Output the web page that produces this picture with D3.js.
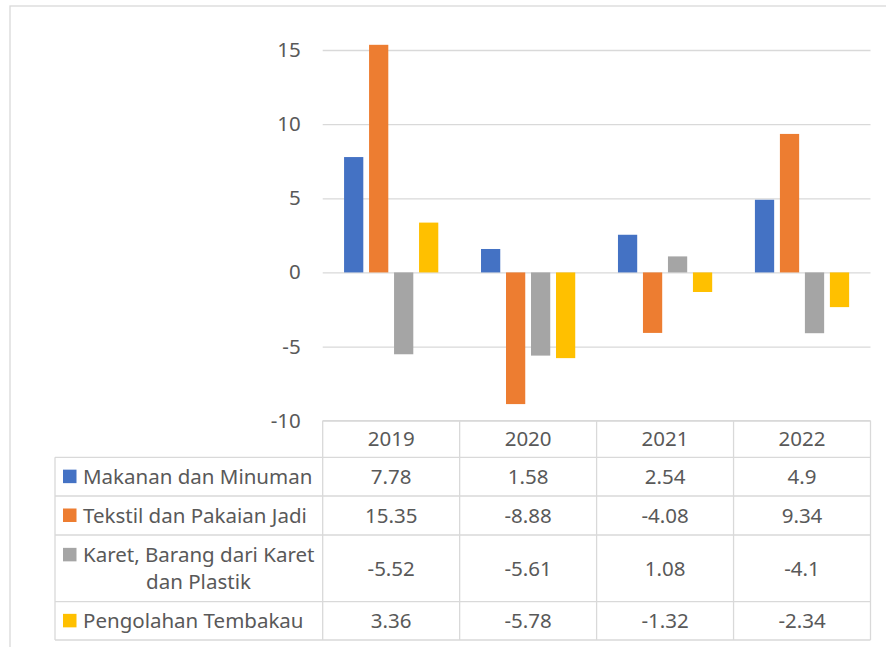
<!DOCTYPE html>
<html>
<head>
<meta charset="utf-8">
<script src="https://cdn.jsdelivr.net/npm/d3@7"></script>
<style>
  body { margin: 0; background: #fff; }
  text { font-family: "Noto Sans", "Open Sans", sans-serif; fill: #595959; }
</style>
</head>
<body>
<script>
var WIDTH = 886, HEIGHT = 647;

// data
var years = ["2019", "2020", "2021", "2022"];
var seriesNames = ["Makanan dan Minuman", "Tekstil dan Pakaian Jadi", "Karet, Barang dari Karet dan Plastik", "Pengolahan Tembakau"];
var makanan = [7.78, 1.58, 2.54, 4.9];
var tekstil = [15.35, -8.88, -4.08, 9.34];
var karet = [-5.52, -5.61, 1.08, -4.1];
var tembakau = [3.36, -5.78, -1.32, -2.34];
var yTicks = [-10, -5, 0, 5, 10, 15];
var colors = ["#4472C4", "#ED7D31", "#A5A5A5", "#FFC000"];

var seriesValues = [makanan, tekstil, karet, tembakau];

var FS = 20.5;
var PLOT = { left: 322.7, right: 870.5, top: 50, bottom: 420.7 };
var LEGEND_LEFT = 55;
var rowLines = [420.7, 457.3, 496, 535, 601.7, 640];
var GRID = "#d9d9d9";

var _svg = d3.select('body').append('svg')
    .attr('width', WIDTH)
    .attr('height', HEIGHT);

// outer chart border (runs off the right/bottom of the picture)
_svg.append('rect')
    .attr('x', 10).attr('y', 6)
    .attr('width', 900).attr('height', 700)
    .attr('fill', 'none')
    .attr('stroke', GRID)
    .attr('stroke-width', 1.3);

var _xScale = d3.scaleBand()
    .domain(years)
    .range([PLOT.left, PLOT.right]);

var _yScale = d3.scaleLinear()
    .domain([-10, 15])
    .range([PLOT.bottom, PLOT.top]);

var bw = _xScale.bandwidth();
var _x1 = d3.scaleBand()
    .domain(d3.range(seriesNames.length))
    .range([bw * 0.156, bw * 0.844])
    .paddingInner(0.23);

// gridlines + y labels
var yAxis = d3.axisLeft(_yScale)
    .tickValues(yTicks)
    .tickSize(-(PLOT.right - PLOT.left))
    .tickPadding(22)
    .tickFormat(function(d){ return String(d); });

var ag = _svg.append('g')
    .attr('transform', 'translate(' + PLOT.left + ',0)')
    .call(yAxis);
ag.select('.domain').remove();
ag.selectAll('.tick line').attr('stroke', GRID).attr('stroke-width', 1.3);
ag.selectAll('.tick text')
    .attr('font-size', FS)
    .attr('fill', '#595959')
    .style('font-family', '"Noto Sans", sans-serif');

// bars
seriesValues.forEach(function(vals, si){
    _svg.append('g').selectAll('rect').data(vals)
        .enter()
        .append('rect')
            .attr('x', function(d, i){ return _xScale(years[i]) + _x1(si); })
            .attr('width', _x1.bandwidth())
            .attr('y', function(d){ return _yScale(Math.max(0, d)); })
            .attr('height', function(d){ return Math.abs(_yScale(d) - _yScale(0)); })
            .attr('fill', colors[si]);
});

// data table lines
var tg = _svg.append('g').attr('stroke', GRID).attr('stroke-width', 1.3);
rowLines.forEach(function(y, i){
    tg.append('line')
        .attr('x1', i === 0 ? PLOT.left : LEGEND_LEFT).attr('x2', PLOT.right)
        .attr('y1', y).attr('y2', y);
});
tg.append('line')
    .attr('x1', LEGEND_LEFT).attr('x2', LEGEND_LEFT)
    .attr('y1', rowLines[1]).attr('y2', rowLines[5]);
years.forEach(function(yr){
    tg.append('line')
        .attr('x1', _xScale(yr)).attr('x2', _xScale(yr))
        .attr('y1', rowLines[0]).attr('y2', rowLines[5]);
});
tg.append('line')
    .attr('x1', PLOT.right).attr('x2', PLOT.right)
    .attr('y1', rowLines[0]).attr('y2', rowLines[5]);

// header years
_svg.append('g').selectAll('text').data(years)
    .enter()
    .append('text')
        .attr('x', function(d){ return _xScale(d) + bw / 2; })
        .attr('y', (rowLines[0] + rowLines[1]) / 2)
        .attr('dy', '0.35em')
        .attr('text-anchor', 'middle')
        .attr('font-size', FS)
        .text(function(d){ return d; });

// values + legend rows
seriesNames.forEach(function(name, si){
    var cy = (rowLines[si + 1] + rowLines[si + 2]) / 2;
    var g = _svg.append('g');
    g.selectAll('text').data(seriesValues[si])
        .enter()
        .append('text')
            .attr('x', function(d, i){ return _xScale(years[i]) + bw / 2; })
            .attr('y', cy)
            .attr('dy', '0.35em')
            .attr('text-anchor', 'middle')
            .attr('font-size', FS)
            .text(function(d){ return String(d); });

    var lines = si === 2 ? ["Karet, Barang dari Karet", "dan Plastik"] : [name];
    var firstY = lines.length > 1 ? cy - 13.5 : cy;
    g.append('rect')
        .attr('x', 63).attr('y', firstY - 7)
        .attr('width', 13.5).attr('height', 13.5)
        .attr('fill', colors[si]);
    lines.forEach(function(t, li){
        g.append('text')
            .attr('x', li === 0 ? 83 : 198.5)
            .attr('y', firstY + li * 27)
            .attr('dy', '0.35em')
            .attr('text-anchor', li === 0 ? 'start' : 'middle')
            .attr('font-size', FS)
            .text(t);
    });
});
</script>
</body>
</html>
